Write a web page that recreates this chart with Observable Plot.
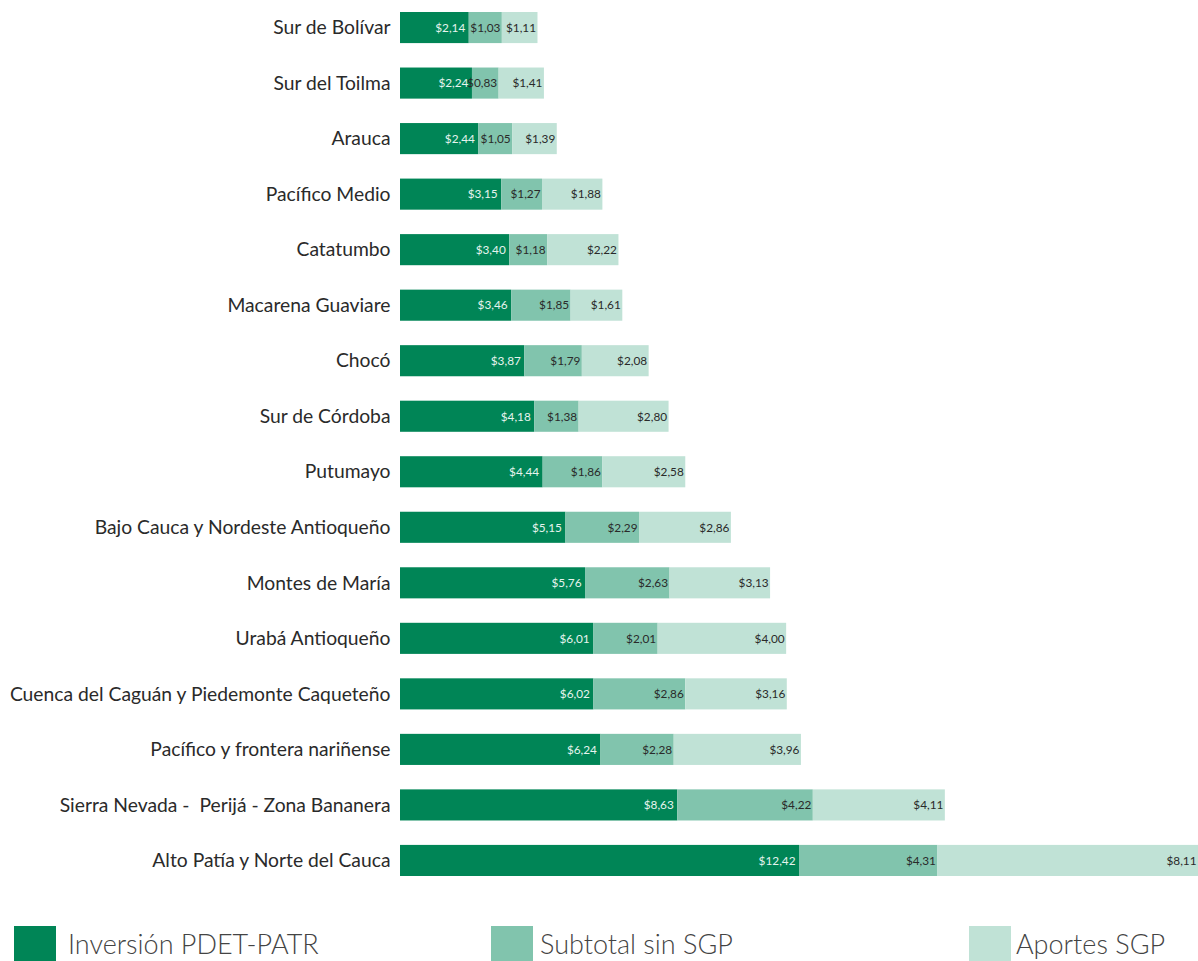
<!DOCTYPE html>
<html>
<head>
<meta charset="utf-8">
<script src="https://cdn.jsdelivr.net/npm/d3@7"></script>
<script src="https://cdn.jsdelivr.net/npm/@observablehq/plot@0.6"></script>
<style>
  body { margin: 0; background: #fff; font-family: Lato, "Noto Sans", sans-serif; }
  #wrap { position: relative; width: 1198px; height: 961px; overflow: hidden; }
  .sw { position: absolute; top: 926px; width: 42px; height: 36px; }
  .lb { position: absolute; top: 926px; font-family: Lato, sans-serif; font-weight: 300; font-size: 27px; color: #444; line-height: 36px; white-space: nowrap; }
</style>
</head>
<body>
<div id="wrap">
  <div id="chart"></div>
</div>
<script>
const categories = [
  "Sur de Bolívar", "Sur del Toilma", "Arauca", "Pacífico Medio", "Catatumbo",
  "Macarena Guaviare", "Chocó", "Sur de Córdoba", "Putumayo",
  "Bajo Cauca y Nordeste Antioqueño", "Montes de María", "Urabá Antioqueño",
  "Cuenca del Caguán y Piedemonte Caqueteño", "Pacífico y frontera nariñense",
  "Sierra Nevada -  Perijá - Zona Bananera", "Alto Patía y Norte del Cauca"
];
const inversion = [2.14, 2.24, 2.44, 3.15, 3.40, 3.46, 3.87, 4.18, 4.44, 5.15, 5.76, 6.01, 6.02, 6.24, 8.63, 12.42];
const subtotal  = [1.03, 0.83, 1.05, 1.27, 1.18, 1.85, 1.79, 1.38, 1.86, 2.29, 2.63, 2.01, 2.86, 2.28, 4.22, 4.31];
const aportes   = [1.11, 1.41, 1.39, 1.88, 2.22, 1.61, 2.08, 2.80, 2.58, 2.86, 3.13, 4.00, 3.16, 3.96, 4.11, 8.11];
const seriesNames = ["Inversión PDET-PATR", "Subtotal sin SGP", "Aportes SGP"];
const seriesColors = ["#008556", "#81c4ad", "#c0e2d6"];
const labelColors = ["#e6f4ee", "#2a2a2a", "#2a2a2a"];

const seriesValues = [inversion, subtotal, aportes];
const rows = [];
categories.forEach((c, i) => {
  seriesValues.forEach((vals, s) => {
    rows.push({region: c, series: seriesNames[s], value: vals[i], si: s});
  });
});
const fmt = v => "$" + v.toFixed(2).replace(".", ",");
const maxTotal = d3.max(categories.map((c, i) => inversion[i] + subtotal[i] + aportes[i]));

const labelOpts = {fontSize: 11.8, letterSpacing: "-0.6px", textAnchor: "end"};
const chart = Plot.plot({
  width: 1198,
  height: 888,
  marginLeft: 400,
  marginRight: 0,
  marginTop: 12,
  marginBottom: 12,
  style: {fontFamily: "Lato, 'Noto Sans', sans-serif", background: "#fff"},
  x: {domain: [0, maxTotal], axis: null},
  y: {domain: categories, paddingInner: 0.44, paddingOuter: 0, round: false, label: null},
  color: {domain: seriesNames, range: seriesColors},
  marks: [
    Plot.axisY({tickSize: 0, tickPadding: 10, fontSize: 19.3, color: "#2a2a2a", label: null}),
    Plot.barX(rows, Plot.stackX({x: "value", y: "region", fill: "series", z: "series", order: null})),
    Plot.text(rows, Plot.stackX2({
      x: "value", y: "region", z: "series", order: null,
      text: d => d.si === 0 ? fmt(d.value) : null,
      fill: labelColors[0], dx: -4, ...labelOpts
    })),
    Plot.text(rows, Plot.stackX2({
      x: "value", y: "region", z: "series", order: null,
      text: d => d.si !== 0 ? fmt(d.value) : null,
      fill: labelColors[1], dx: -2, ...labelOpts
    }))
  ]
});
document.getElementById("chart").appendChild(chart);

const swatchX = [14, 491, 969];
const labelX = [68, 540, 1016];
const wrap = document.getElementById("wrap");
seriesNames.forEach((n, i) => {
  const s = document.createElement("div");
  s.className = "sw";
  s.style.left = swatchX[i] + "px";
  s.style.background = seriesColors[i];
  wrap.appendChild(s);
  const l = document.createElement("div");
  l.className = "lb";
  l.style.left = labelX[i] + "px";
  l.textContent = n;
  wrap.appendChild(l);
});
</script>
</body>
</html>
